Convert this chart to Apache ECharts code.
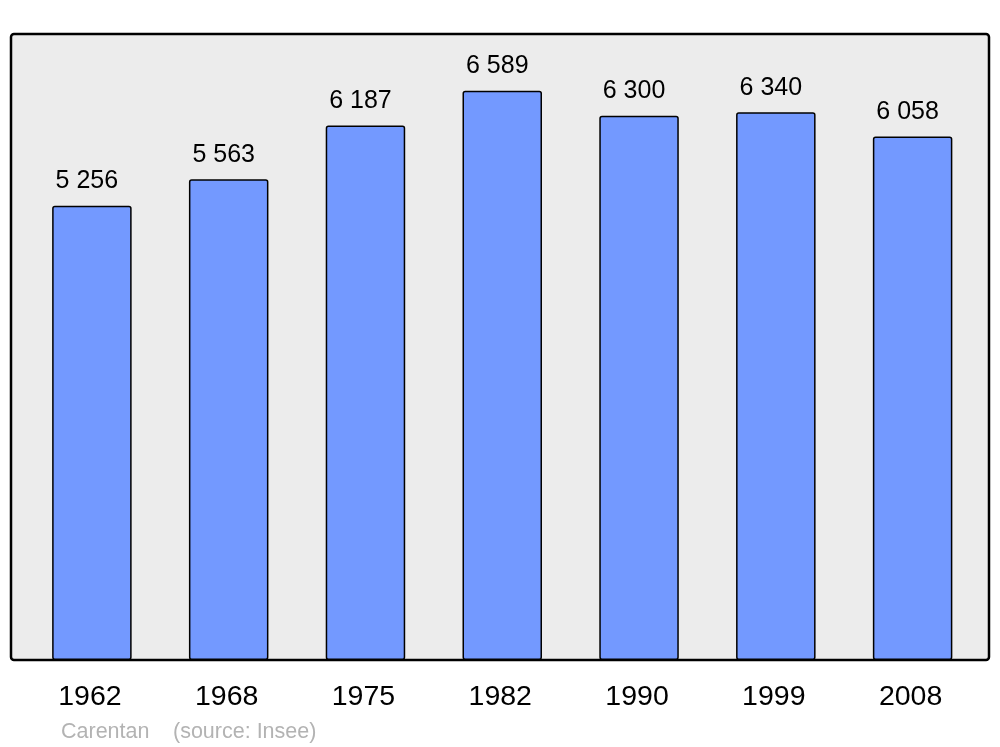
<!DOCTYPE html>
<html>
<head>
<meta charset="utf-8">
<script src="https://cdn.jsdelivr.net/npm/echarts@6/dist/echarts.min.js"></script>
<style>html,body{margin:0;padding:0;background:#fff}#c{width:1000px;height:747px}</style>
</head>
<body>
<div id="c"></div>
<script>
const years = ['1962', '1968', '1975', '1982', '1990', '1999', '2008'];
const population = [5256, 5563, 6187, 6589, 6300, 6340, 6058];
const town = 'Carentan';
const source = '(source: Insee)';

const fmt = v => String(v).replace(/\B(?=(\d{3})+(?!\d))/g, ' ');
const chart = echarts.init(document.getElementById('c'), null, {renderer: 'canvas'});
chart.setOption({
  animation: false,
  backgroundColor: '#ffffff',
  textStyle: {fontFamily: 'Liberation Sans, Arial, sans-serif'},
  grid: {left: 23.5, right: 19, top: 34, bottom: 87},
  graphic: [
    {type: 'rect', z: -10, silent: true,
     shape: {x: 11, y: 34, width: 978, height: 626, r: 3},
     style: {fill: '#ececec', stroke: '#000000', lineWidth: 2.5}},
    {type: 'text', left: 61, top: 721,
     style: {text: town, fill: '#b3b3b3', font: '21.5px "Liberation Sans", Arial, sans-serif'}},
    {type: 'text', left: 173, top: 721,
     style: {text: source, fill: '#b3b3b3', font: '21.5px "Liberation Sans", Arial, sans-serif'}}
  ],
  xAxis: {
    type: 'category',
    data: years,
    axisLine: {show: false},
    axisTick: {show: false},
    axisLabel: {color: '#000', fontSize: 28.5, margin: 23, padding: [0, 4, 0, 0], fontFamily: 'Liberation Sans, Arial, sans-serif'}
  },
  yAxis: {
    type: 'value',
    min: 0,
    max: 7245,
    show: false,
    splitLine: {show: false}
  },
  series: [{
    type: 'bar',
    data: population,
    barWidth: 79.5,
    z: 2,
    itemStyle: {color: '#7399ff', borderColor: '#000', borderWidth: 1.5, borderRadius: 2},
    label: {
      show: true,
      position: 'top',
      distance: 12,
      offset: [-5, 0],
      color: '#000',
      fontSize: 25,
      fontFamily: 'Liberation Sans, Arial, sans-serif',
      formatter: p => fmt(p.value)
    }
  }]
});
</script>
</body>
</html>
